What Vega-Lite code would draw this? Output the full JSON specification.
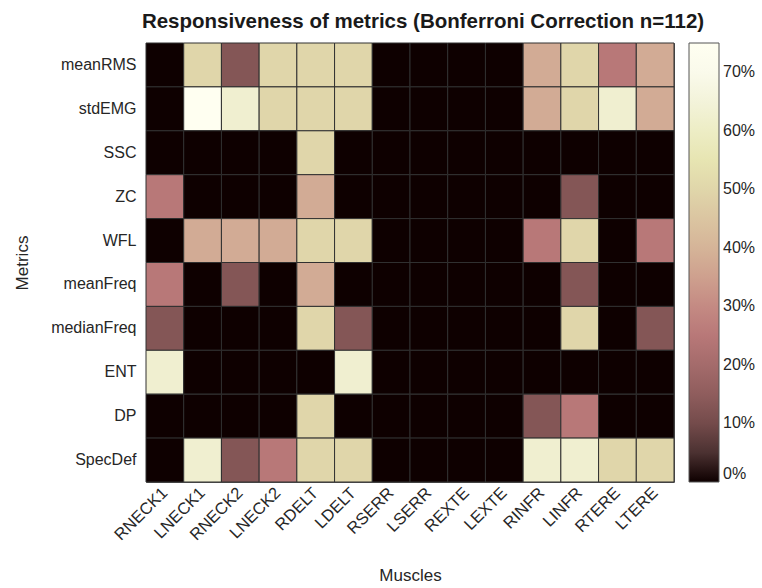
{
  "$schema": "https://vega.github.io/schema/vega-lite/v6.json",
  "width": 528,
  "height": 439,
  "autosize": {"type": "none"},
  "padding": {"left": 146, "top": 43, "right": 88, "bottom": 106},
  "background": "white",
  "config": {
    "font": "Liberation Sans",
    "view": {"stroke": "#555555", "strokeWidth": 1}
  },
  "title": {
    "text": "Responsiveness of metrics (Bonferroni Correction n=112)",
    "fontSize": 20.5,
    "fontWeight": "bold",
    "color": "#1a1a1a",
    "anchor": "middle",
    "dx": 13,
    "offset": 10
  },
  "data": {
    "values": [
      {"metric": "meanRMS", "muscle": "RNECK1", "value": 0},
      {"metric": "meanRMS", "muscle": "LNECK1", "value": 50},
      {"metric": "meanRMS", "muscle": "RNECK2", "value": 12.5},
      {"metric": "meanRMS", "muscle": "LNECK2", "value": 50},
      {"metric": "meanRMS", "muscle": "RDELT", "value": 50},
      {"metric": "meanRMS", "muscle": "LDELT", "value": 50},
      {"metric": "meanRMS", "muscle": "RSERR", "value": 0},
      {"metric": "meanRMS", "muscle": "LSERR", "value": 0},
      {"metric": "meanRMS", "muscle": "REXTE", "value": 0},
      {"metric": "meanRMS", "muscle": "LEXTE", "value": 0},
      {"metric": "meanRMS", "muscle": "RINFR", "value": 37.5},
      {"metric": "meanRMS", "muscle": "LINFR", "value": 50},
      {"metric": "meanRMS", "muscle": "RTERE", "value": 25},
      {"metric": "meanRMS", "muscle": "LTERE", "value": 37.5},

      {"metric": "stdEMG", "muscle": "RNECK1", "value": 0},
      {"metric": "stdEMG", "muscle": "LNECK1", "value": 75},
      {"metric": "stdEMG", "muscle": "RNECK2", "value": 62.5},
      {"metric": "stdEMG", "muscle": "LNECK2", "value": 50},
      {"metric": "stdEMG", "muscle": "RDELT", "value": 50},
      {"metric": "stdEMG", "muscle": "LDELT", "value": 50},
      {"metric": "stdEMG", "muscle": "RSERR", "value": 0},
      {"metric": "stdEMG", "muscle": "LSERR", "value": 0},
      {"metric": "stdEMG", "muscle": "REXTE", "value": 0},
      {"metric": "stdEMG", "muscle": "LEXTE", "value": 0},
      {"metric": "stdEMG", "muscle": "RINFR", "value": 37.5},
      {"metric": "stdEMG", "muscle": "LINFR", "value": 50},
      {"metric": "stdEMG", "muscle": "RTERE", "value": 62.5},
      {"metric": "stdEMG", "muscle": "LTERE", "value": 37.5},

      {"metric": "SSC", "muscle": "RNECK1", "value": 0},
      {"metric": "SSC", "muscle": "LNECK1", "value": 0},
      {"metric": "SSC", "muscle": "RNECK2", "value": 0},
      {"metric": "SSC", "muscle": "LNECK2", "value": 0},
      {"metric": "SSC", "muscle": "RDELT", "value": 50},
      {"metric": "SSC", "muscle": "LDELT", "value": 0},
      {"metric": "SSC", "muscle": "RSERR", "value": 0},
      {"metric": "SSC", "muscle": "LSERR", "value": 0},
      {"metric": "SSC", "muscle": "REXTE", "value": 0},
      {"metric": "SSC", "muscle": "LEXTE", "value": 0},
      {"metric": "SSC", "muscle": "RINFR", "value": 0},
      {"metric": "SSC", "muscle": "LINFR", "value": 0},
      {"metric": "SSC", "muscle": "RTERE", "value": 0},
      {"metric": "SSC", "muscle": "LTERE", "value": 0},

      {"metric": "ZC", "muscle": "RNECK1", "value": 25},
      {"metric": "ZC", "muscle": "LNECK1", "value": 0},
      {"metric": "ZC", "muscle": "RNECK2", "value": 0},
      {"metric": "ZC", "muscle": "LNECK2", "value": 0},
      {"metric": "ZC", "muscle": "RDELT", "value": 37.5},
      {"metric": "ZC", "muscle": "LDELT", "value": 0},
      {"metric": "ZC", "muscle": "RSERR", "value": 0},
      {"metric": "ZC", "muscle": "LSERR", "value": 0},
      {"metric": "ZC", "muscle": "REXTE", "value": 0},
      {"metric": "ZC", "muscle": "LEXTE", "value": 0},
      {"metric": "ZC", "muscle": "RINFR", "value": 0},
      {"metric": "ZC", "muscle": "LINFR", "value": 12.5},
      {"metric": "ZC", "muscle": "RTERE", "value": 0},
      {"metric": "ZC", "muscle": "LTERE", "value": 0},

      {"metric": "WFL", "muscle": "RNECK1", "value": 0},
      {"metric": "WFL", "muscle": "LNECK1", "value": 37.5},
      {"metric": "WFL", "muscle": "RNECK2", "value": 37.5},
      {"metric": "WFL", "muscle": "LNECK2", "value": 37.5},
      {"metric": "WFL", "muscle": "RDELT", "value": 50},
      {"metric": "WFL", "muscle": "LDELT", "value": 50},
      {"metric": "WFL", "muscle": "RSERR", "value": 0},
      {"metric": "WFL", "muscle": "LSERR", "value": 0},
      {"metric": "WFL", "muscle": "REXTE", "value": 0},
      {"metric": "WFL", "muscle": "LEXTE", "value": 0},
      {"metric": "WFL", "muscle": "RINFR", "value": 25},
      {"metric": "WFL", "muscle": "LINFR", "value": 50},
      {"metric": "WFL", "muscle": "RTERE", "value": 0},
      {"metric": "WFL", "muscle": "LTERE", "value": 25},

      {"metric": "meanFreq", "muscle": "RNECK1", "value": 25},
      {"metric": "meanFreq", "muscle": "LNECK1", "value": 0},
      {"metric": "meanFreq", "muscle": "RNECK2", "value": 12.5},
      {"metric": "meanFreq", "muscle": "LNECK2", "value": 0},
      {"metric": "meanFreq", "muscle": "RDELT", "value": 37.5},
      {"metric": "meanFreq", "muscle": "LDELT", "value": 0},
      {"metric": "meanFreq", "muscle": "RSERR", "value": 0},
      {"metric": "meanFreq", "muscle": "LSERR", "value": 0},
      {"metric": "meanFreq", "muscle": "REXTE", "value": 0},
      {"metric": "meanFreq", "muscle": "LEXTE", "value": 0},
      {"metric": "meanFreq", "muscle": "RINFR", "value": 0},
      {"metric": "meanFreq", "muscle": "LINFR", "value": 12.5},
      {"metric": "meanFreq", "muscle": "RTERE", "value": 0},
      {"metric": "meanFreq", "muscle": "LTERE", "value": 0},

      {"metric": "medianFreq", "muscle": "RNECK1", "value": 12.5},
      {"metric": "medianFreq", "muscle": "LNECK1", "value": 0},
      {"metric": "medianFreq", "muscle": "RNECK2", "value": 0},
      {"metric": "medianFreq", "muscle": "LNECK2", "value": 0},
      {"metric": "medianFreq", "muscle": "RDELT", "value": 50},
      {"metric": "medianFreq", "muscle": "LDELT", "value": 12.5},
      {"metric": "medianFreq", "muscle": "RSERR", "value": 0},
      {"metric": "medianFreq", "muscle": "LSERR", "value": 0},
      {"metric": "medianFreq", "muscle": "REXTE", "value": 0},
      {"metric": "medianFreq", "muscle": "LEXTE", "value": 0},
      {"metric": "medianFreq", "muscle": "RINFR", "value": 0},
      {"metric": "medianFreq", "muscle": "LINFR", "value": 50},
      {"metric": "medianFreq", "muscle": "RTERE", "value": 0},
      {"metric": "medianFreq", "muscle": "LTERE", "value": 12.5},

      {"metric": "ENT", "muscle": "RNECK1", "value": 62.5},
      {"metric": "ENT", "muscle": "LNECK1", "value": 0},
      {"metric": "ENT", "muscle": "RNECK2", "value": 0},
      {"metric": "ENT", "muscle": "LNECK2", "value": 0},
      {"metric": "ENT", "muscle": "RDELT", "value": 0},
      {"metric": "ENT", "muscle": "LDELT", "value": 62.5},
      {"metric": "ENT", "muscle": "RSERR", "value": 0},
      {"metric": "ENT", "muscle": "LSERR", "value": 0},
      {"metric": "ENT", "muscle": "REXTE", "value": 0},
      {"metric": "ENT", "muscle": "LEXTE", "value": 0},
      {"metric": "ENT", "muscle": "RINFR", "value": 0},
      {"metric": "ENT", "muscle": "LINFR", "value": 0},
      {"metric": "ENT", "muscle": "RTERE", "value": 0},
      {"metric": "ENT", "muscle": "LTERE", "value": 0},

      {"metric": "DP", "muscle": "RNECK1", "value": 0},
      {"metric": "DP", "muscle": "LNECK1", "value": 0},
      {"metric": "DP", "muscle": "RNECK2", "value": 0},
      {"metric": "DP", "muscle": "LNECK2", "value": 0},
      {"metric": "DP", "muscle": "RDELT", "value": 50},
      {"metric": "DP", "muscle": "LDELT", "value": 0},
      {"metric": "DP", "muscle": "RSERR", "value": 0},
      {"metric": "DP", "muscle": "LSERR", "value": 0},
      {"metric": "DP", "muscle": "REXTE", "value": 0},
      {"metric": "DP", "muscle": "LEXTE", "value": 0},
      {"metric": "DP", "muscle": "RINFR", "value": 12.5},
      {"metric": "DP", "muscle": "LINFR", "value": 25},
      {"metric": "DP", "muscle": "RTERE", "value": 0},
      {"metric": "DP", "muscle": "LTERE", "value": 0},

      {"metric": "SpecDef", "muscle": "RNECK1", "value": 0},
      {"metric": "SpecDef", "muscle": "LNECK1", "value": 62.5},
      {"metric": "SpecDef", "muscle": "RNECK2", "value": 12.5},
      {"metric": "SpecDef", "muscle": "LNECK2", "value": 25},
      {"metric": "SpecDef", "muscle": "RDELT", "value": 50},
      {"metric": "SpecDef", "muscle": "LDELT", "value": 50},
      {"metric": "SpecDef", "muscle": "RSERR", "value": 0},
      {"metric": "SpecDef", "muscle": "LSERR", "value": 0},
      {"metric": "SpecDef", "muscle": "REXTE", "value": 0},
      {"metric": "SpecDef", "muscle": "LEXTE", "value": 0},
      {"metric": "SpecDef", "muscle": "RINFR", "value": 62.5},
      {"metric": "SpecDef", "muscle": "LINFR", "value": 62.5},
      {"metric": "SpecDef", "muscle": "RTERE", "value": 50},
      {"metric": "SpecDef", "muscle": "LTERE", "value": 50}
    ]
  },
  "mark": {"type": "rect", "stroke": "#303030", "strokeWidth": 1},
  "encoding": {
    "x": {
      "field": "muscle",
      "type": "nominal",
      "sort": ["RNECK1", "LNECK1", "RNECK2", "LNECK2", "RDELT", "LDELT", "RSERR", "LSERR", "REXTE", "LEXTE", "RINFR", "LINFR", "RTERE", "LTERE"],
      "scale": {"paddingInner": 0, "paddingOuter": 0},
      "axis": {
        "title": "Muscles",
        "titleFontSize": 17,
        "titleFontWeight": "normal",
        "titleColor": "#262626",
        "titlePadding": 24,
        "labelAngle": -45,
        "labelAlign": "right",
        "labelBaseline": "middle",
        "labelFontSize": 16.5,
        "labelColor": "#262626",
        "labelPadding": 8,
        "ticks": false,
        "domain": false
      }
    },
    "y": {
      "field": "metric",
      "type": "nominal",
      "sort": ["meanRMS", "stdEMG", "SSC", "ZC", "WFL", "meanFreq", "medianFreq", "ENT", "DP", "SpecDef"],
      "scale": {"paddingInner": 0, "paddingOuter": 0},
      "axis": {
        "title": "Metrics",
        "titleFontSize": 17,
        "titleFontWeight": "normal",
        "titleColor": "#262626",
        "titlePadding": 19,
        "labelFontSize": 16,
        "labelColor": "#262626",
        "labelPadding": 10,
        "ticks": false,
        "domain": false
      }
    },
    "color": {
      "field": "value",
      "type": "quantitative",
      "scale": {
        "domain": [0, 6.25, 12.5, 18.75, 25, 31.25, 37.5, 43.75, 50, 56.25, 62.5, 68.75, 75],
        "range": ["#0e0000", "#5c3c3c", "#845656", "#9f6868", "#b87878", "#c78f86", "#d2ab95", "#d9c19f", "#e0d6aa", "#e9e9b4", "#f0efd0", "#f8f8e9", "#ffffff"]
      },
      "legend": {
        "title": null,
        "orient": "right",
        "offset": 15,
        "gradientLength": 439,
        "gradientThickness": 30,
        "gradientStrokeColor": "#555555",
        "gradientStrokeWidth": 1,
        "values": [0, 10, 20, 30, 40, 50, 60, 70],
        "labelExpr": "datum.value + '%'",
        "labelFontSize": 16,
        "labelColor": "#262626",
        "labelOffset": 4,
        "labelOverlap": false
      }
    }
  }
}
